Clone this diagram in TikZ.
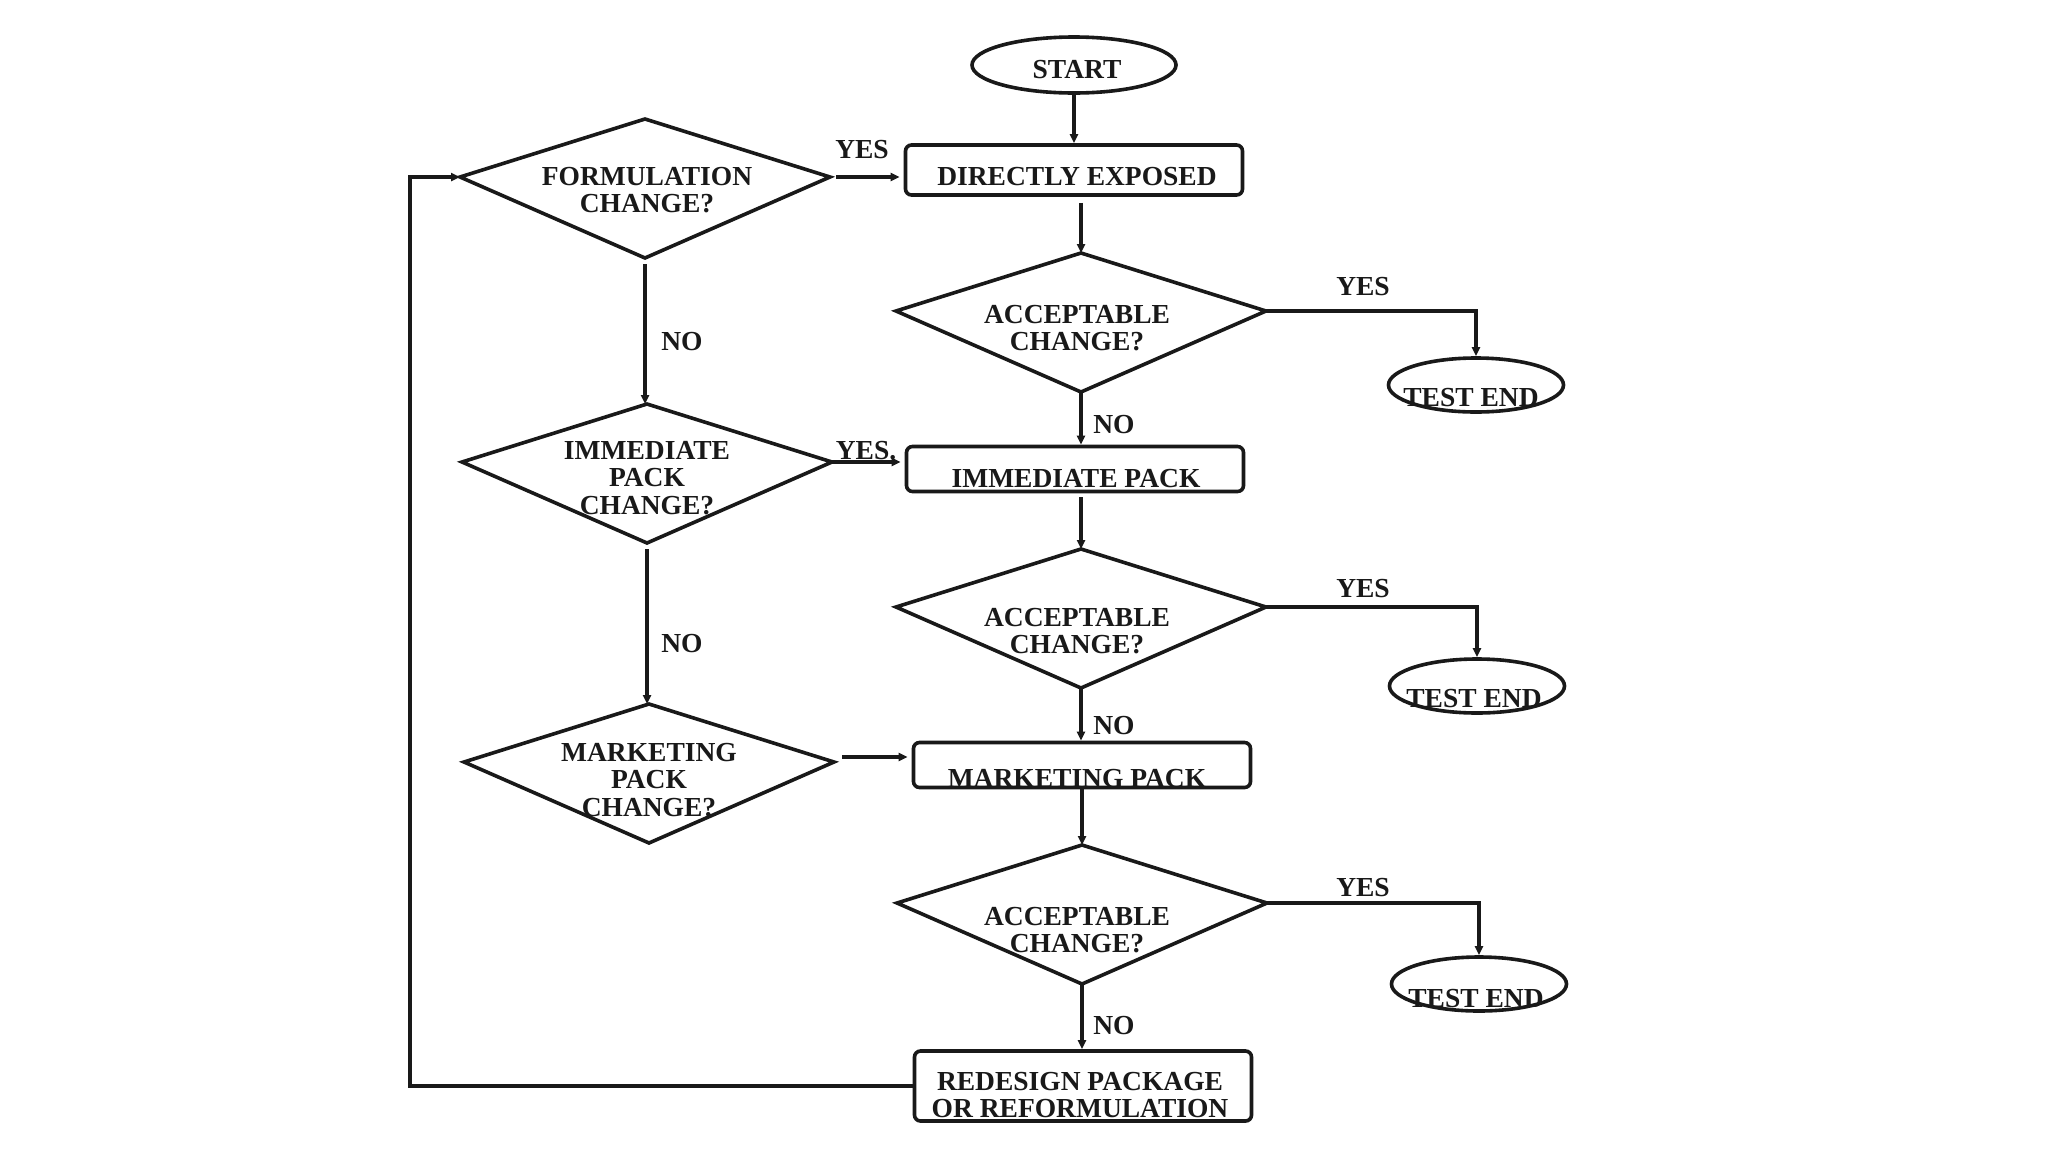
\documentclass[tikz,border=0pt]{standalone}
\usepackage{fontspec}
\setmainfont{Liberation Serif}
\usetikzlibrary{shapes.geometric,arrows.meta,calc}
\newcommand\mykite[3]{%
  \coordinate (#1) at (#2,#3);
  \coordinate (#1-w) at ($(#1)+(-185,0)$);
  \coordinate (#1-e) at ($(#1)+(185,0)$);
  \coordinate (#1-n) at ($(#1)+(0,-58)$);
  \coordinate (#1-s) at ($(#1)+(0,81)$);
  \draw[shp] (#1-w) -- (#1-n) -- (#1-e) -- (#1-s) -- cycle;}
\begin{document}
\begin{tikzpicture}[x=1pt,y=-1pt,
  shp/.style={draw=black!90, line width=3.6pt, line join=miter},
  boxn/.style={shp, rectangle, rounded corners=6pt, inner sep=0pt, minimum width=337pt},
  elln/.style={shp, ellipse, inner sep=0pt},
  txt/.style={font=\bfseries\fontsize{27.5}{27.5}\selectfont, text=black!90, align=center, inner sep=0pt},
  arr/.style={draw=black!90, line width=3.2pt, -{Triangle[length=9pt,width=8pt]}},
  ln/.style={line width=3.2pt}]
\fill[white] (0,0) rectangle (2048,1152);
\useasboundingbox (0,0) rectangle (2048,1152);

% right column
\node[elln, minimum width=204pt, minimum height=56pt] (start) at (1074,65) {};
\node[txt] (startt) at (1077,70) {START};
\node[boxn, minimum height=50pt] (de) at (1074,170) {};
\node[txt] (det) at (1077,177) {DIRECTLY EXPOSED};
\mykite{acc1}{1081}{311}
\node[txt] (acc1t) at (1077,328) {ACCEPTABLE\\CHANGE?};
\node[boxn, minimum height=45pt] (ip) at (1075,469) {};
\node[txt] (ipt) at (1076,479) {IMMEDIATE PACK};
\mykite{acc2}{1081}{607}
\node[txt] (acc2t) at (1077,631) {ACCEPTABLE\\CHANGE?};
\node[boxn, minimum height=45pt] (mp) at (1082,765) {};
\node[txt] (mpt) at (1077,779) {MARKETING PACK};
\mykite{acc3}{1082}{903}
\node[txt] (acc3t) at (1077,930) {ACCEPTABLE\\CHANGE?};
\node[boxn, minimum height=70pt] (rd) at (1083,1086) {};
\node[txt] (rdt) at (1080,1095) {REDESIGN PACKAGE\\OR REFORMULATION};

% left column
\mykite{form}{645}{177}
\node[txt] (formt) at (647,190) {FORMULATION\\CHANGE?};
\mykite{imm}{647}{462}
\node[txt] (immt) at (647,478) {IMMEDIATE\\PACK\\CHANGE?};
\mykite{mpc}{649}{762}
\node[txt] (mpct) at (649,780) {MARKETING\\PACK\\CHANGE?};

% test ends
\node[elln, minimum width=175pt, minimum height=54pt] (t1) at (1476,385) {};
\node[txt] (t1t) at (1471,398) {TEST END};
\node[elln, minimum width=175pt, minimum height=54pt] (t2) at (1477,686) {};
\node[txt] (t2t) at (1474,699) {TEST END};
\node[elln, minimum width=175pt, minimum height=54pt] (t3) at (1479,984) {};
\node[txt] (t3t) at (1476,999) {TEST END};

% vertical connectors right
\draw[arr] (start.south) -- (start.south |- de.north);
\draw[arr] (acc1-n |- de.south) ++(0,6) -- (acc1-n);
\draw[arr] (acc1-s) -- (acc1-s |- ip.north);
\draw[arr] (acc2-n |- ip.south) ++(0,4) -- (acc2-n);
\draw[arr] (acc2-s) -- (acc2-s |- mp.north);
\draw[arr] (acc3-n |- mp.south) -- (acc3-n);
\draw[arr] (acc3-s) -- (acc3-s |- rd.north);

% left column connectors
\draw[arr, shorten <=6pt] (form-s) -- (form-s |- imm-n);
\draw[arr, shorten <=6pt] (imm-s) -- (imm-s |- mpc-n);

% horizontal connectors
\draw[arr, shorten <=6pt, shorten >=4pt] (form-e) -- (form-e -| de.west);
\draw[arr, shorten >=4pt] (imm-e) -- (imm-e -| ip.west);
\draw[arr, shorten <=8pt, shorten >=4pt] ($(mpc-e)+(0,-5)$) -- ($(mpc-e -| mp.west)+(0,-5)$);

% yes branches
\draw[arr] (acc1-e) -- (acc1-e -| t1.north) -- (t1.north);
\draw[arr] (acc2-e) -- (acc2-e -| t2.north) -- (t2.north);
\draw[arr] (acc3-e) -- (acc3-e -| t3.north) -- (t3.north);

% loop back
\coordinate (loopx) at (410,0);
\draw[arr] (rd.west) -- (rd.west -| loopx) |- (form-w);

% labels
\node[txt] (y1) at (862,150) {YES};
\node[txt] (y2) at (866,451) {YES.};
\node[txt] (y3) at (1363,287) {YES};
\node[txt] (y4) at (1363,589) {YES};
\node[txt] (y5) at (1363,888) {YES};
\node[txt] (n1) at (682,342) {NO};
\node[txt] (n2) at (682,644) {NO};
\node[txt] (n3) at (1114,425) {NO};
\node[txt] (n4) at (1114,726) {NO};
\node[txt] (n5) at (1114,1026) {NO};
\end{tikzpicture}
\end{document}
